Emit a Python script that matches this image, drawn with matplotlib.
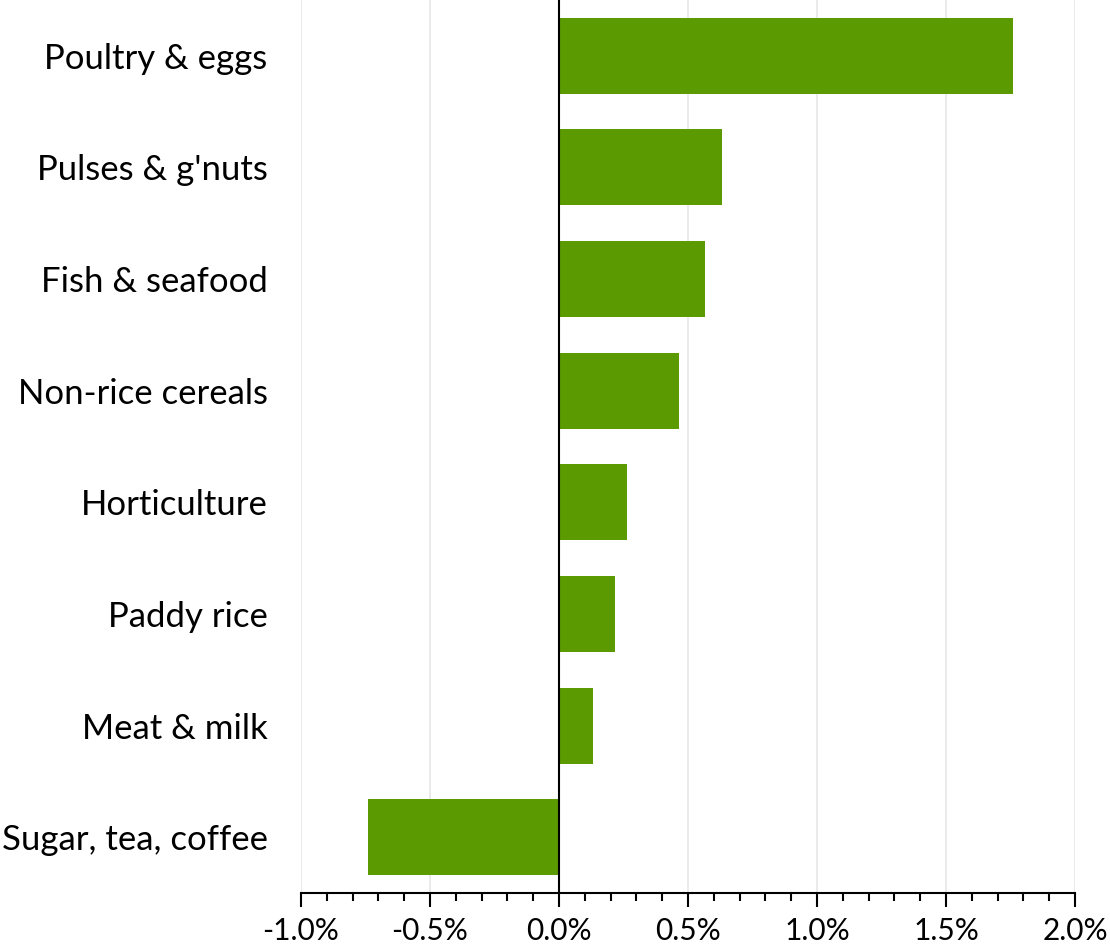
import matplotlib.pyplot as plt
import numpy as np
from matplotlib.ticker import MultipleLocator, FuncFormatter

categories = ['Poultry & eggs', "Pulses & g'nuts", 'Fish & seafood', 'Non-rice cereals',
              'Horticulture', 'Paddy rice', 'Meat & milk', 'Sugar, tea, coffee']
values = [1.76, 0.63, 0.565, 0.465, 0.265, 0.215, 0.13, -0.74]

plt.rcParams['font.family'] = ['Lato', 'DejaVu Sans']

fig = plt.figure(figsize=(11.1, 9.51), dpi=100)
ax = fig.add_axes([0.2712, 0.061, 0.6973, 0.939])

y = np.arange(len(categories))
ax.barh(y, values, height=0.68, color='#5b9a00', zorder=3)
ax.set_ylim(len(categories) - 0.5, -0.5)
ax.set_yticks(y)
ax.set_yticklabels(categories, fontsize=25)
ax.tick_params(axis='y', length=0, pad=24)

ax.set_xlim(-1.0, 2.0)
ax.xaxis.set_major_locator(MultipleLocator(0.5))
ax.xaxis.set_minor_locator(MultipleLocator(0.1))
ax.xaxis.set_major_formatter(FuncFormatter(lambda v, p: f'{v:.1f}%'))
ax.tick_params(axis='x', which='major', length=10, width=1.5, labelsize=21.5, pad=7)
ax.tick_params(axis='x', which='minor', length=6, width=1.5)

ax.grid(axis='x', color='#e6e6e6', linewidth=1.2, zorder=0)
for s in ['top', 'right', 'left']:
    ax.spines[s].set_visible(False)
ax.spines['bottom'].set_linewidth(1.5)
ax.axvline(0, color='black', linewidth=1.5, zorder=4)

fig.savefig('out.png', dpi=100)
